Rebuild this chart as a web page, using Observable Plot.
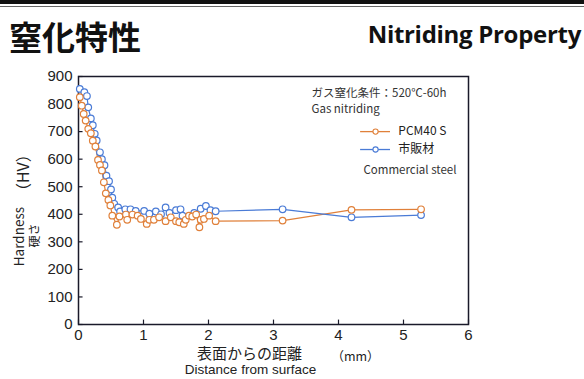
<!DOCTYPE html>
<html><head><meta charset="utf-8">
<script src="https://cdn.jsdelivr.net/npm/d3@7"></script>
<script src="https://cdn.jsdelivr.net/npm/@observablehq/plot@0.6"></script>
<style>
html,body{margin:0;padding:0;background:#fff;width:584px;height:379px;overflow:hidden;}
#hdr{position:relative;width:584px;height:60px;}
#band{position:absolute;left:0;top:0;width:584px;height:4px;background:#111;}
#thin{position:absolute;left:0;top:6px;width:584px;height:1px;background:#666;}
#t1{position:absolute;left:9px;top:12px;font:bold 33px "Noto Sans CJK JP";color:#111;}
#t2{position:absolute;right:3px;top:22px;font:bold 24px/1 "Open Sans";color:#111;letter-spacing:-0.3px;}
#chart{position:relative;}
</style></head>
<body>
<div id="hdr"><div id="band"></div><div id="thin"></div><div id="t1">窒化特性</div><div id="t2">Nitriding Property</div></div>
<div id="chart"></div>
<script>
const pcmDistance = [0.02,0.05,0.08,0.11,0.15,0.19,0.22,0.26,0.30,0.33,0.36,0.39,0.42,0.46,0.49,0.52,0.59,0.63,0.73,0.75,0.83,0.91,0.96,1.05,1.09,1.16,1.24,1.34,1.42,1.50,1.55,1.62,1.65,1.70,1.75,1.81,1.86,1.88,1.93,2.01,2.11,3.14,4.20,5.27];
const pcmHardness = [825,794,764,740,710,694,667,646,597,579,559,516,476,452,432,395,362,392,399,380,399,395,383,365,380,380,389,375,389,375,371,365,380,395,392,399,353,380,383,395,375,377,416,418];
const comDistance = [0.02,0.09,0.13,0.15,0.19,0.22,0.25,0.28,0.33,0.36,0.40,0.43,0.47,0.50,0.52,0.55,0.61,0.64,0.72,0.80,0.88,1.01,1.09,1.19,1.27,1.34,1.40,1.50,1.57,1.60,1.78,1.88,1.96,2.03,2.11,3.14,4.20,5.27];
const comHardness = [855,843,829,788,748,723,692,668,625,600,578,540,520,490,460,438,425,410,418,418,412,412,402,410,400,425,405,415,418,395,405,420,430,415,411,418,389,397];
const xTicks = [0,1,2,3,4,5,6];
const yTicks = [0,100,200,300,400,500,600,700,800,900];
const seriesNames = ["PCM40 S","市販材"];
const colors = ["#e0803a","#4a7bd6"];

const pcm = pcmDistance.map((d,i)=>({x:d,y:pcmHardness[i]}));
const com = comDistance.map((d,i)=>({x:d,y:comHardness[i]}));
const legend = [
  {name:seriesNames[0], color:colors[0], y:700},
  {name:seriesNames[1], color:colors[1], y:635}
];
const font = "Liberation Sans, Arial, sans-serif";
const jp = "Noto Sans CJK JP";

const plot = Plot.plot({
  width:584, height:319,
  marginLeft:78, marginRight:116, marginTop:16, marginBottom:55,
  style:{fontFamily:font, fontSize:"15px", color:"#222", overflow:"visible"},
  x:{domain:[0,6], ticks:xTicks, label:null},
  y:{domain:[0,900], ticks:yTicks, label:null},
  marks:[
    Plot.axisX({ticks:xTicks, tickSize:0, tickPadding:5, fontSize:15, label:null, tickFormat:d=>d}),
    Plot.axisY({ticks:yTicks, tickSize:0, tickPadding:6, fontSize:15, label:null, tickFormat:d=>d}),
    Plot.ruleY(yTicks,{y:d=>d, x1:0, x2:0.07, stroke:"#1a1a2a", strokeWidth:1.2}),
    Plot.ruleX(xTicks,{x:d=>d, y1:0, y2:16, stroke:"#1a1a2a", strokeWidth:1.2}),
    Plot.frame({stroke:"#1a1a2a", strokeWidth:1.5}),
    Plot.line(pcm,{x:"x",y:"y",stroke:colors[0],strokeWidth:1.2}),
    Plot.line(com,{x:"x",y:"y",stroke:colors[1],strokeWidth:1.2}),
    Plot.dot(com,{x:"x",y:"y",stroke:colors[1],fill:"white",r:3.3,strokeWidth:1.2}),
    Plot.dot(pcm,{x:"x",y:"y",stroke:colors[0],fill:"white",r:3.3,strokeWidth:1.2}),
    // legend
    Plot.ruleY(legend,{y:"y",x1:4.34,x2:4.80,stroke:"color",strokeWidth:1.3}),
    Plot.dot(legend,{x:4.57,y:"y",stroke:"color",fill:"white",r:2.6,strokeWidth:1.1}),
    Plot.text(legend,{x:4.92,y:"y",text:"name",textAnchor:"start",fontSize:12,fill:"#222",fontFamily:jp}),
    Plot.text(["ガス窒化条件：520℃-60h"],{frameAnchor:"top-left",dx:233,dy:12,textAnchor:"start",fontSize:11.5,fill:"#333",fontFamily:jp,letterSpacing:"-0.3px"}),
    Plot.text(["Gas nitriding"],{frameAnchor:"top-left",dx:233,dy:28,textAnchor:"start",fontSize:11.5,fill:"#333",fontFamily:jp,letterSpacing:"-0.5px"}),
    Plot.text(["Commercial steel"],{frameAnchor:"top-left",dx:285,dy:89,textAnchor:"start",fontSize:11.5,fill:"#333",fontFamily:jp,letterSpacing:"-0.5px"}),
    // axis titles
    Plot.text(["表面からの距離"],{frameAnchor:"bottom",dx:-24,dy:34,fontSize:15,fill:"#222",fontFamily:jp}),
    Plot.text(["（mm）"],{frameAnchor:"bottom",dx:82,dy:36,fontSize:12.5,fill:"#222",fontFamily:jp}),
    Plot.text(["Distance from surface"],{frameAnchor:"bottom",dx:-23,dy:49,fontSize:13.5,fill:"#222",fontFamily:font}),
    Plot.text(["（HV）"],{x:-0.84,y:551,rotate:-90,fontSize:16,fill:"#222",fontFamily:jp}),
    Plot.text(["Hardness"],{x:-0.90,y:319,rotate:-90,fontSize:13.5,fill:"#222",fontFamily:jp}),
    Plot.text(["硬さ"],{x:-0.67,y:323,rotate:-90,fontSize:12,fill:"#222",fontFamily:jp})
  ]
});
document.getElementById("chart").appendChild(plot);
</script>
</body></html>
